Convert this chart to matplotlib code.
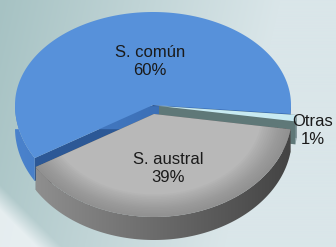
import numpy as np
import matplotlib.pyplot as plt
from matplotlib.patches import Polygon
from matplotlib.colors import to_rgb

labels = ['S. común', 'S. austral', 'Otras']
values = [60, 39, 1]
top_colors = ['#5791da', '#b8b8b8', '#c8eaf2']
face_colors = ['#2c5896', '#5c5c5c', '#5f7878']
wall_colors = [('#4a82cc', '#2f5fa3'), ('#8e8e8e', '#444444'), ('#8aa3a8', '#5f7378')]
explode = [(0, 0), (1, 9), (6, 1)]   # pixel offsets of each slice
start_angle = -5

W, H = 336, 247
cx, cy = 153, 105
a, b_top, b_bot = 138, 93, 103
depth = 23

fig = plt.figure(figsize=(W / 100, H / 100), dpi=100)
ax = fig.add_axes([0, 0, 1, 1])
ax.set_xlim(0, W)
ax.set_ylim(H, 0)
ax.axis('off')

# background: grey-teal gradient with a pale streak bottom-left
yy, xx = np.mgrid[0:H, 0:W]
left = np.array(to_rgb('#a6c2c3'))
right = np.array(to_rgb('#dae6e9'))
t = np.clip(xx / W * 1.2 + yy / H * 0.2, 0, 1)[..., None]
bg = left * (1 - t) + right * t
d = yy - 1.0 * xx
corner = np.clip((d - 185) / 25, 0, 1)[..., None]
bg = bg * (1 - 0.75 * corner) + 0.75 * corner * np.array([0.97, 0.98, 0.99])
ax.imshow(np.clip(bg, 0, 1), extent=[0, W, H, 0], zorder=0, aspect='auto')


def pt(theta, ox, oy, dz=0):
    s = np.sin(theta)
    b = np.where(s > 0, b_top, b_bot)
    return np.column_stack([cx + ox + a * np.cos(theta), cy + oy - b * s + dz])


def hgrad(poly, c0, c1, z):
    # fill a polygon with a left-to-right colour gradient
    patch = Polygon(poly, closed=True, fc='none', ec='none', zorder=z)
    ax.add_patch(patch)
    x0, x1 = poly[:, 0].min(), poly[:, 0].max()
    y0, y1 = poly[:, 1].min(), poly[:, 1].max()
    g = np.linspace(0, 1, 64)[None, :, None]
    img = np.array(to_rgb(c0)) * (1 - g) + np.array(to_rgb(c1)) * g
    im = ax.imshow(img, extent=[x0, x1, y1, y0], zorder=z, aspect='auto', interpolation='bilinear')
    im.set_clip_path(patch)


bounds = start_angle + 360 * np.concatenate([[0], np.cumsum(values)]) / sum(values)
order = [0, 2, 1]   # back slices first
z = 1
for i in order:
    t0, t1 = np.radians(bounds[i]), np.radians(bounds[i + 1])
    ox, oy = explode[i]
    th = np.linspace(t0, t1, 300)
    apex = np.array([[cx + ox, cy + oy]])
    # radial faces
    for tt in (t0, t1):
        e = pt(np.array([tt]), ox, oy)
        face = np.vstack([apex, e, e + [0, depth], apex + [0, depth]])
        ax.add_patch(Polygon(face, closed=True, fc=face_colors[i], ec='none', zorder=z))
    # outer wall, front part only
    front = th[np.sin(th) < 0]
    if len(front) > 1:
        wall = np.vstack([pt(front, ox, oy), pt(front[::-1], ox, oy, depth)])
        hgrad(wall, wall_colors[i][0], wall_colors[i][1], z + 1)
    rim = pt(th, ox, oy)
    ax.add_patch(Polygon(np.vstack([apex, rim]), closed=True, fc=top_colors[i], ec='none', zorder=z + 2))
    # soft darkening towards the rim of the grey top
    if i == 1:
        for s in np.linspace(0.78, 0.98, 14):
            inner = apex + s * (rim - apex)
            ring = np.vstack([rim, inner[::-1]])
            ax.add_patch(Polygon(ring, closed=True, fc='#6e6e6e', ec='none', alpha=0.045, zorder=z + 2))
    z += 3

font = dict(family=['Liberation Sans', 'DejaVu Sans'], fontsize=12, color='#1a1a1a',
            ha='center', va='center', linespacing=1.25, zorder=50)
ax.text(150, 61, f'{labels[0]}\n{values[0]}%', **font)
ax.text(168, 168, f'{labels[1]}\n{values[1]}%', **font)
ax.text(313, 130, f'{labels[2]}\n{values[2]}%', **font)

fig.savefig('out.png', dpi=100)
